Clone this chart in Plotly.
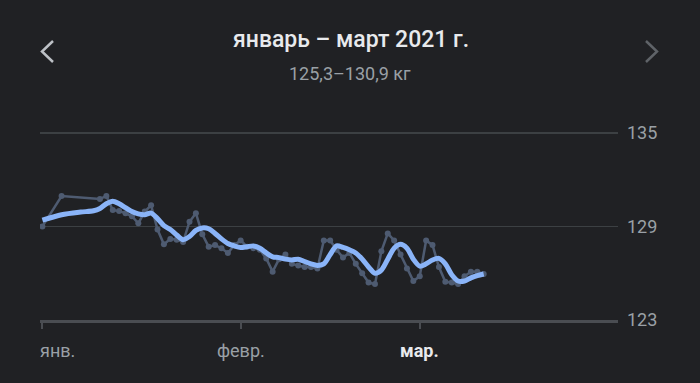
import plotly.graph_objects as go

# ---- data ----
raw_dates = [
    "2021-01-01", "2021-01-04", "2021-01-10", "2021-01-11", "2021-01-12", "2021-01-13",
    "2021-01-14", "2021-01-15", "2021-01-16", "2021-01-17", "2021-01-18", "2021-01-19",
    "2021-01-20", "2021-01-21", "2021-01-22", "2021-01-23", "2021-01-24", "2021-01-25",
    "2021-01-26", "2021-01-27", "2021-01-28", "2021-01-29", "2021-01-30", "2021-01-31",
    "2021-02-01", "2021-02-02", "2021-02-03", "2021-02-04", "2021-02-05", "2021-02-06",
    "2021-02-07", "2021-02-08", "2021-02-09", "2021-02-10", "2021-02-11", "2021-02-12",
    "2021-02-13", "2021-02-14", "2021-02-15", "2021-02-16", "2021-02-17", "2021-02-18",
    "2021-02-19", "2021-02-20", "2021-02-21", "2021-02-22", "2021-02-23", "2021-02-24",
    "2021-02-25", "2021-02-26", "2021-02-27", "2021-02-28", "2021-03-01", "2021-03-02",
    "2021-03-03", "2021-03-04", "2021-03-05", "2021-03-06", "2021-03-07", "2021-03-08",
    "2021-03-09", "2021-03-10", "2021-03-11",
]
raw_weight = [
    129.0, 130.95, 130.75, 130.95, 130.05, 129.98,
    129.85, 129.65, 129.2, 129.95, 130.35, 128.8,
    127.85, 128.2, 128.15, 128.0, 129.3, 129.85,
    128.5, 127.7, 127.8, 127.6, 127.3, 127.8,
    128.1, 127.7, 127.6, 127.5, 126.95, 126.1,
    126.9, 127.2, 126.6, 126.5, 126.4, 126.4,
    126.3, 128.1, 128.1, 127.5, 127.0, 127.3,
    126.6, 126.0, 125.4, 125.3, 127.4, 128.55,
    128.1, 127.2, 126.3, 125.5, 125.8, 128.1,
    127.8, 126.4, 125.45, 125.4, 125.3, 125.8,
    126.1, 126.1, 125.95,
]

trend_dates = [
    "2021-01-01", "2021-01-04", "2021-01-07", "2021-01-09", "2021-01-10", "2021-01-11",
    "2021-01-12", "2021-01-13", "2021-01-14", "2021-01-15", "2021-01-16", "2021-01-17",
    "2021-01-18", "2021-01-19", "2021-01-20", "2021-01-21", "2021-01-22", "2021-01-23",
    "2021-01-24", "2021-01-25", "2021-01-26", "2021-01-27", "2021-01-28", "2021-01-29",
    "2021-01-30", "2021-01-31", "2021-02-01", "2021-02-02", "2021-02-03", "2021-02-04",
    "2021-02-05", "2021-02-06", "2021-02-07", "2021-02-08", "2021-02-09", "2021-02-10",
    "2021-02-11", "2021-02-12", "2021-02-13", "2021-02-14", "2021-02-15", "2021-02-16",
    "2021-02-17", "2021-02-18", "2021-02-19", "2021-02-20", "2021-02-21", "2021-02-22",
    "2021-02-23", "2021-02-24", "2021-02-25", "2021-02-26", "2021-02-27", "2021-02-28",
    "2021-03-01", "2021-03-02", "2021-03-03", "2021-03-04", "2021-03-05", "2021-03-06",
    "2021-03-07", "2021-03-08", "2021-03-09", "2021-03-10", "2021-03-11",
]
trend_weight = [
    129.4, 129.75, 129.92, 130.0, 130.15, 130.45,
    130.62, 130.45, 130.2, 129.95, 129.8, 129.75,
    129.85, 129.5, 129.05, 128.8, 128.45, 128.15,
    128.35, 128.75, 128.9, 128.85, 128.55, 128.2,
    127.9, 127.75, 127.65, 127.7, 127.75, 127.6,
    127.3, 127.05, 127.0, 126.9, 126.85, 126.9,
    126.75, 126.6, 126.5, 126.6, 127.2, 127.75,
    127.65, 127.5, 127.3, 126.9, 126.4, 126.0,
    126.2, 126.9, 127.6, 127.85, 127.6, 126.9,
    126.45, 126.6, 126.85, 126.95, 126.6, 125.9,
    125.5, 125.5, 125.7, 125.85, 125.95,
]

month_ticks = ["2021-01-01", "2021-02-01", "2021-03-01"]
month_labels = ["янв.", "февр.", "<b>мар.</b>"]
y_ticks = [123, 129, 135]

title_text = "январь – март 2021 г."
subtitle_text = "125,3–130,9 кг"

# ---- styling ----
BG = "#202124"
GRID = "#3c4043"
AXIS = "#4a4d52"
LABEL = "#9aa0a6"
RAW = "#4e5b71"
TREND = "#8ab4f8"
W, H = 700, 383
ML, MR, MT, MB = 40, 82, 125, 63

fig = go.Figure()
fig.add_trace(go.Scatter(
    x=raw_dates, y=raw_weight, mode="lines+markers",
    line=dict(color=RAW, width=2.5), marker=dict(color=RAW, size=6),
    hoverinfo="skip", showlegend=False,
))
fig.add_trace(go.Scatter(
    x=trend_dates, y=trend_weight, mode="lines",
    line=dict(color=TREND, width=5, shape="spline", smoothing=0.8),
    hoverinfo="skip", showlegend=False,
))

fig.update_layout(
    width=W, height=H,
    margin=dict(l=ML, r=MR, t=MT, b=MB),
    paper_bgcolor=BG, plot_bgcolor=BG,
    font=dict(family="Roboto", color=LABEL),
    xaxis=dict(
        type="date",
        range=["2020-12-31 15:00", "2021-04-01"],
        showgrid=False, zeroline=False,
        showline=True, linecolor=AXIS, linewidth=3,
        ticks="outside", tickvals=month_ticks, ticklen=6, tickwidth=2, tickcolor=AXIS,
        showticklabels=False, fixedrange=True,
    ),
    yaxis=dict(
        range=[123, 135.5], side="right",
        tickvals=y_ticks, ticktext=[str(v) for v in y_ticks],
        showgrid=True, gridcolor=GRID, gridwidth=1.5,
        zeroline=False, showline=False, ticks="",
        tickfont=dict(family="Roboto", size=18, color=LABEL),
        ticklabelstandoff=8, fixedrange=True,
    ),
)


def px_to_paper(px, py):
    return (px - ML) / (W - ML - MR), (H - MB - py) / (H - MT - MB)


# month labels
for i, (d, lab) in enumerate(zip(month_ticks, month_labels)):
    fig.add_annotation(
        x=d, xref="x", y=0, yref="paper", yanchor="middle", yshift=-30,
        xanchor="left" if i == 0 else "center", xshift=-4 if i == 0 else 0,
        text=lab, showarrow=False,
        font=dict(family="Roboto", size=18,
                  color="#e8eaed" if "<b>" in lab else LABEL),
    )

# title and subtitle
tx, ty = px_to_paper(351, 39)
sx, sy = px_to_paper(350, 73)
fig.add_annotation(
    x=tx, xref="paper", xanchor="center", y=ty, yref="paper", yanchor="middle",
    text=title_text, showarrow=False,
    font=dict(family="Roboto", size=23, color="#e8eaed", weight=500),
)
fig.add_annotation(
    x=sx, xref="paper", xanchor="center", y=sy, yref="paper", yanchor="middle",
    text=subtitle_text, showarrow=False,
    font=dict(family="Roboto", size=18, color=LABEL),
)


def chevron(points, color):
    pts = [px_to_paper(a, b) for a, b in points]
    path = "M {} {} L {} {} L {} {}".format(*[c for p in pts for c in p])
    fig.add_shape(type="path", path=path, xref="paper", yref="paper",
                  line=dict(color=color, width=2.5))


chevron([(53, 41), (42, 51.5), (53, 62)], "#bdc1c6")
chevron([(646, 41), (657, 51.5), (646, 62)], "#5f6368")

fig.write_html(
    "out.html",
    config={"displayModeBar": False, "staticPlot": True},
    post_script="document.body.style.margin='0';document.body.style.background='#202124';",
)
